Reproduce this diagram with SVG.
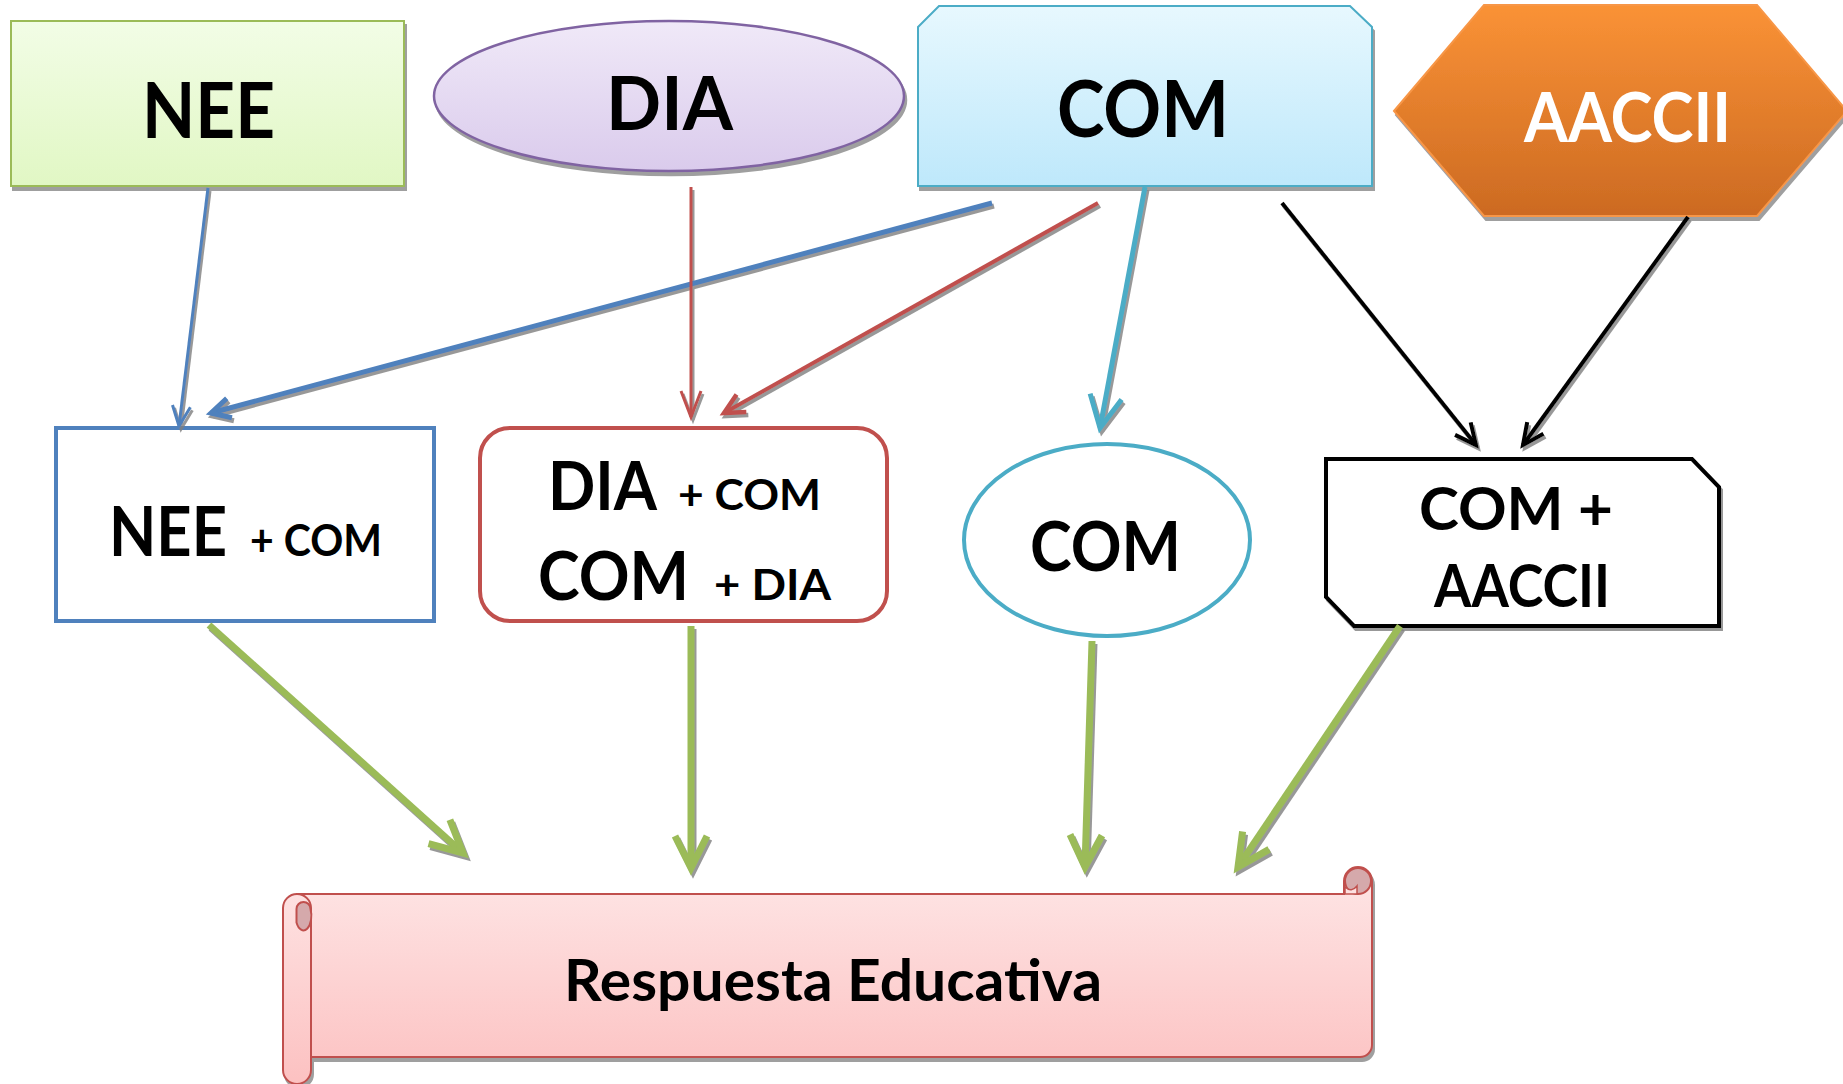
<svg xmlns="http://www.w3.org/2000/svg" width="1843" height="1084" viewBox="0 0 1843 1084">
<style>
text{font-family:Lato,"Open Sans","DejaVu Sans",sans-serif;font-weight:700;fill:#000}
.c{text-anchor:middle}
.w{fill:#fff}
.conn line{fill:none}
.scr{fill:url(#gRes);stroke:#c0504d;stroke-width:2}
.curl{fill:#d5a9ab;stroke:#c0504d;stroke-width:2}
</style>
<defs>
<filter id="sh" x="-10%" y="-10%" width="130%" height="140%">
<feDropShadow dx="2" dy="4" stdDeviation="0.6" flood-color="#7f7f7f" flood-opacity="0.75"/>
</filter>
<filter id="shl" x="-20%" y="-20%" width="140%" height="140%">
<feDropShadow dx="2" dy="3" stdDeviation="0.5" flood-color="#7f7f7f" flood-opacity="0.8"/>
</filter>
<linearGradient id="gNee" x1="0" y1="0" x2="0" y2="1"><stop offset="0" stop-color="#f2fde6"/><stop offset="1" stop-color="#e1f7c4"/></linearGradient>
<linearGradient id="gDia" x1="0" y1="0" x2="0" y2="1"><stop offset="0" stop-color="#f0e9f8"/><stop offset="1" stop-color="#dacbec"/></linearGradient>
<linearGradient id="gCom" x1="0" y1="0" x2="0" y2="1"><stop offset="0" stop-color="#e7f8fe"/><stop offset="1" stop-color="#bee8fb"/></linearGradient>
<linearGradient id="gAac" x1="0" y1="0" x2="0" y2="1"><stop offset="0" stop-color="#fa9236"/><stop offset="1" stop-color="#cc6a22"/></linearGradient>
<linearGradient id="gRes" gradientUnits="userSpaceOnUse" x1="0" y1="867" x2="0" y2="1084"><stop offset="0" stop-color="#fee6e6"/><stop offset="1" stop-color="#fcc1c1"/></linearGradient>
<marker id="mBlue" markerUnits="userSpaceOnUse" orient="auto" refX="0" refY="0" markerWidth="40" markerHeight="40" overflow="visible"><path d="M-20,-9 L0,0 L-20,9" fill="none" stroke="#4f81bd" stroke-width="3"/></marker>
<marker id="mBlue2" markerUnits="userSpaceOnUse" orient="auto" refX="0" refY="0" markerWidth="40" markerHeight="40" overflow="visible"><path d="M-19,-10 L0,0 L-19,10" fill="none" stroke="#4f81bd" stroke-width="5"/></marker>
<marker id="mRed" markerUnits="userSpaceOnUse" orient="auto" refX="0" refY="0" markerWidth="40" markerHeight="40" overflow="visible"><path d="M-26,-10 L0,0 L-26,10" fill="none" stroke="#c0504d" stroke-width="3"/></marker>
<marker id="mRed2" markerUnits="userSpaceOnUse" orient="auto" refX="0" refY="0" markerWidth="40" markerHeight="40" overflow="visible"><path d="M-20,-10 L0,0 L-20,10" fill="none" stroke="#c0504d" stroke-width="4.5"/></marker>
<marker id="mCyan" markerUnits="userSpaceOnUse" orient="auto" refX="0" refY="0" markerWidth="40" markerHeight="40" overflow="visible"><path d="M-32,-16 L0,0 L-32,16" fill="none" stroke="#4bacc6" stroke-width="5"/></marker>
<marker id="mBlack" markerUnits="userSpaceOnUse" orient="auto" refX="0" refY="0" markerWidth="40" markerHeight="40" overflow="visible"><path d="M-21,-10 L0,0 L-21,10" fill="none" stroke="#000" stroke-width="4"/></marker>
<marker id="mGreen" markerUnits="userSpaceOnUse" orient="auto" refX="0" refY="0" markerWidth="40" markerHeight="40" overflow="visible"><path d="M-32,-16 L0,0 L-32,16" fill="none" stroke="#9bbb59" stroke-width="7"/></marker>
</defs>
<rect width="1843" height="1084" fill="#fff"/>

<g id="node-nee" filter="url(#sh)">
<rect x="11" y="21" width="393" height="165" fill="url(#gNee)" stroke="#9bbb59" stroke-width="2"/>
<text x="142" y="138" font-size="77" textLength="133" lengthAdjust="spacingAndGlyphs">NEE</text>
</g>
<g id="node-dia" filter="url(#sh)">
<ellipse cx="669" cy="96" rx="235" ry="75" fill="url(#gDia)" stroke="#8064a2" stroke-width="2.5"/>
<text x="606" y="130" font-size="75" textLength="127" lengthAdjust="spacingAndGlyphs">DIA</text>
</g>
<g id="node-com" filter="url(#sh)">
<path d="M918,27 L939,6 L1350,6 L1372,27 L1372,186 L918,186 Z" fill="url(#gCom)" stroke="#4bacc6" stroke-width="2"/>
<text x="1057" y="137" font-size="78" textLength="172" lengthAdjust="spacingAndGlyphs">COM</text>
</g>
<g id="node-aaccii" filter="url(#sh)">
<path d="M1394,111 L1484,5 L1757,5 L1847,111 L1757,216 L1484,216 Z" fill="url(#gAac)" stroke="#f79646" stroke-width="2"/>
<text class="w" x="1524" y="142" font-size="68" textLength="207" lengthAdjust="spacingAndGlyphs">AACCII</text>
</g>

<g id="node-nee-com">
<rect x="56" y="428" width="378" height="193" fill="#fff" stroke="#4f81bd" stroke-width="4"/>
<text x="109" y="556" font-size="68" textLength="118" lengthAdjust="spacingAndGlyphs">NEE</text>
<text x="250" y="556" font-size="44" textLength="132" lengthAdjust="spacingAndGlyphs">+ COM</text>
</g>
<g id="node-dia-com">
<rect x="480" y="428" width="407" height="193" rx="30" ry="30" fill="#fff" stroke="#c0504d" stroke-width="4"/>
<text x="548" y="510" font-size="67" textLength="109" lengthAdjust="spacingAndGlyphs">DIA</text>
<text x="678" y="510" font-size="42" textLength="143" lengthAdjust="spacingAndGlyphs">+ COM</text>
<text x="538" y="600" font-size="67" textLength="151" lengthAdjust="spacingAndGlyphs">COM</text>
<text x="714" y="600" font-size="42" textLength="117" lengthAdjust="spacingAndGlyphs">+ DIA</text>
</g>
<g id="node-com2">
<ellipse cx="1107" cy="540" rx="143" ry="96" fill="#fff" stroke="#4bacc6" stroke-width="4"/>
<text x="1030" y="571" font-size="68" textLength="151" lengthAdjust="spacingAndGlyphs">COM</text>
</g>
<g id="node-com-aaccii" filter="url(#shl)">
<path d="M1326,459 L1692,459 L1719,487 L1719,626 L1354,626 L1326,597 Z" fill="#fff" stroke="#000" stroke-width="4"/>
<text x="1419" y="530" font-size="60" textLength="194" lengthAdjust="spacingAndGlyphs">COM +</text>
<text x="1434" y="607" font-size="60" textLength="176" lengthAdjust="spacingAndGlyphs">AACCII</text>
</g>

<g id="node-respuesta" filter="url(#sh)">
<path class="scr" d="M297,894 L1344,894 L1344,881 A14,14 0 0 1 1372,881 L1372,1045 A12,12 0 0 1 1360,1057 L297,1057 Z"/>
<circle class="curl" cx="1358" cy="881" r="13"/>
<path d="M1345,894 L1345,887 Q1351.5,893 1357,886 L1357,894 Z" fill="#fde0e0" stroke="#c0504d" stroke-width="1.5"/>
<path class="scr" d="M283,1070 L283,908 A14,14 0 0 1 311,908 L311,1070 A14,14 0 0 1 283,1070 Z"/>
<path class="curl" d="M296.5,922.5 L296.5,909 A7,7 0 0 1 310.5,909 A7,13 0 0 1 296.5,922.5 Z"/>
<text x="564" y="1001" font-size="58" textLength="538" lengthAdjust="spacingAndGlyphs">Respuesta Educativa</text>
</g>

<g id="connectors" class="conn" filter="url(#shl)">
<line x1="208" y1="188" x2="179" y2="426" stroke="#4f81bd" stroke-width="3" marker-end="url(#mBlue)"/>
<line x1="992" y1="203" x2="211" y2="413" stroke="#4f81bd" stroke-width="5" marker-end="url(#mBlue2)"/>
<line x1="691" y1="187" x2="691" y2="417" stroke="#c0504d" stroke-width="3" marker-end="url(#mRed)"/>
<line x1="1098" y1="203" x2="724" y2="413" stroke="#c0504d" stroke-width="4" marker-end="url(#mRed2)"/>
<line x1="1145" y1="187" x2="1100" y2="428" stroke="#4bacc6" stroke-width="5" marker-end="url(#mCyan)"/>
<line x1="1282" y1="203" x2="1476" y2="445" stroke="#000" stroke-width="4" marker-end="url(#mBlack)"/>
<line x1="1688" y1="217" x2="1523" y2="445" stroke="#000" stroke-width="4" marker-end="url(#mBlack)"/>
<line x1="209" y1="625" x2="463" y2="853" stroke="#9bbb59" stroke-width="7" marker-end="url(#mGreen)"/>
<line x1="691" y1="626" x2="691" y2="868" stroke="#9bbb59" stroke-width="7" marker-end="url(#mGreen)"/>
<line x1="1092" y1="641" x2="1085" y2="867" stroke="#9bbb59" stroke-width="7" marker-end="url(#mGreen)"/>
<line x1="1400" y1="626" x2="1238" y2="867" stroke="#9bbb59" stroke-width="7" marker-end="url(#mGreen)"/>
</g>
</svg>
